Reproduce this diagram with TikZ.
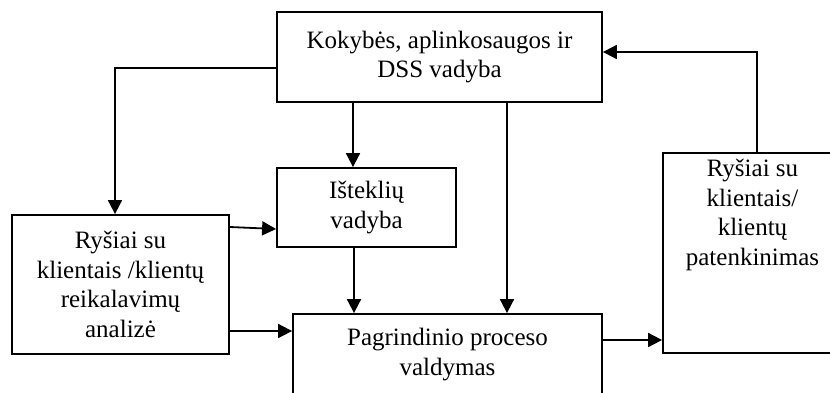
\documentclass[tikz,border=0pt]{standalone}
\usepackage{fontspec}
\setmainfont{Liberation Serif}
\usetikzlibrary{arrows.meta,calc}
\tikzset{
  box/.style={draw, line width=1.8pt, rectangle, align=center, inner sep=0pt,
              font=\fontsize{25}{29.5}\selectfont},
  lbl/.style={align=center, inner sep=0pt, font=\fontsize{25}{29.5}\selectfont},
  arr/.style={line width=1.8pt, -{Triangle[length=14pt,width=14pt]}}
}
\begin{document}
\begin{tikzpicture}[x=1pt,y=-1pt]
  \useasboundingbox (0,0) rectangle (830,393);
  \clip (0,0) rectangle (830,393);

  % boxes
  \node[box, minimum width=325pt, minimum height=90pt] (top) at (439.5,57)
    {Kokybės, aplinkosaugos ir\\DSS vadyba};
  \node[box, minimum width=217pt, minimum height=139pt] (left) at (120.5,284.5)
    {Ryšiai su\\klientais /klientų\\reikalavimų\\analizė};
  \node[box, minimum width=179pt, minimum height=79pt] (ist) at (366.5,207.5)
    {Išteklių\\vadyba};
  \node[box, minimum width=309pt, minimum height=81pt] (main) at (447.5,354.5)
    {Pagrindinio proceso\\valdymas};
  \node[box, minimum width=178pt, minimum height=200pt] (right) at (752,253) {};
  \node[lbl, anchor=north] (rightlbl) at (752.5,159)
    {Ryšiai su\\klientais/\\klientų\\patenkinimas};

  % connectors
  \draw[arr] ([yshift=-11pt]top.west) -| ([xshift=-5.5pt]left.north);
  \draw[arr] ([xshift=-86.5pt]top.south) -- ([xshift=-86.5pt]top.south |- ist.north);
  \draw[arr] ([xshift=-12.5pt]ist.south) -- ([xshift=-12.5pt]ist.south |- main.north);
  \draw[arr] ([xshift=67.5pt]top.south) -- ([xshift=67.5pt]top.south |- main.north);
  \draw[arr] ([yshift=57.5pt]left.east) -- ([yshift=-21.5pt]ist.west);
  \draw[arr] ([yshift=-46.5pt]left.east) -- ([yshift=-46.5pt]left.east -| main.west);
  \draw[arr] ([yshift=14.5pt]main.east) -- ([yshift=14.5pt]main.east -| right.west);
  \draw[arr] ([xshift=5pt]right.north) |- ([yshift=5pt]top.east);
\end{tikzpicture}
\end{document}
